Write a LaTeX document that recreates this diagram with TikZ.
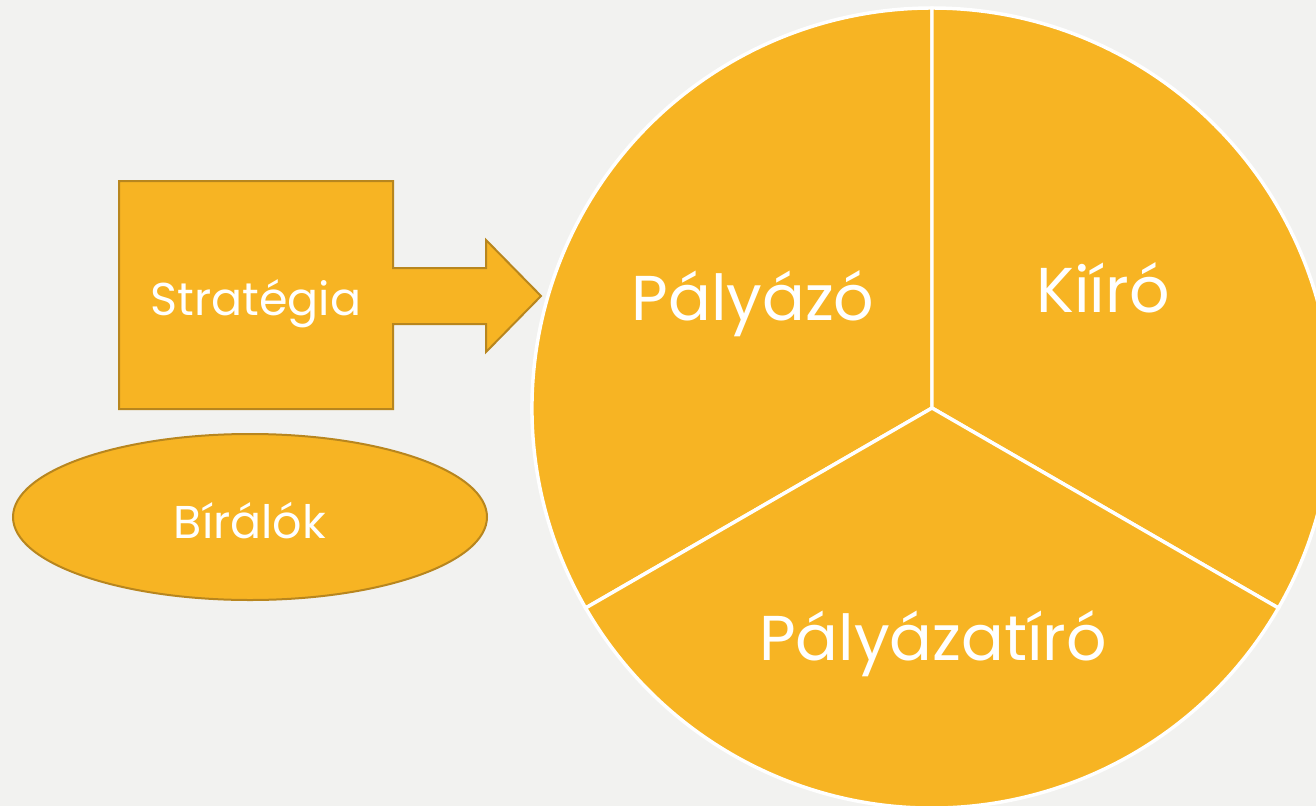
\documentclass[tikz,border=0pt]{standalone}
\usepackage{fontspec}
\setmainfont{Poppins}
\usetikzlibrary{shapes.geometric}
\definecolor{bg}{HTML}{F2F2F0}
\definecolor{gold}{HTML}{F7B423}
\definecolor{edge}{HTML}{B8861E}
\begin{document}
\begin{tikzpicture}[x=0.75pt,y=-0.75pt,
  shapebox/.style={fill=gold,draw=edge,line width=1.5pt,line join=miter},
  sector/.style={fill=gold,draw=white,line width=2.6pt,line join=miter},
  smalltxt/.style={text=white,font=\fontsize{34.5}{40}\selectfont,anchor=base,inner sep=0pt},
  bigtxt/.style={text=white,font=\fontsize{47.5}{56}\selectfont,anchor=base,inner sep=0pt}]
\fill[bg] (0,0) rectangle (1316,806);
\useasboundingbox (0,0) rectangle (1316,806);
\begin{scope}
\clip (0,0) rectangle (1316,806);
% pie sectors
\coordinate (c) at (932,408);
\draw[sector] (c) -- ++(150:400) arc[start angle=150,end angle=270,radius=400] -- cycle;
\draw[sector] (c) -- ++(270:400) arc[start angle=270,end angle=390,radius=400] -- cycle;
\draw[sector] (c) -- ++(30:400) arc[start angle=30,end angle=150,radius=400] -- cycle;
\end{scope}
% box with arrow
\draw[shapebox] (119,181) -- (393,181) -- (393,268) -- (486,268) -- (486,240) -- (541,296)
  -- (486,352) -- (486,324) -- (393,324) -- (393,409) -- (119,409) -- cycle;
% ellipse
\draw[shapebox] (250,517) ellipse[x radius=237,y radius=83];
% texts
\node[smalltxt] (strat) at (256,315) {Stratégia};
\node[smalltxt] (bir) at (250,538) {Bírálók};
\node[bigtxt] (paly) at (753,320) {Pályázó};
\node[bigtxt] (kiiro) at (1103,312) {Kiíró};
\node[bigtxt] (palyiro) at (933,660) {Pályázatíró};
\end{tikzpicture}
\end{document}
